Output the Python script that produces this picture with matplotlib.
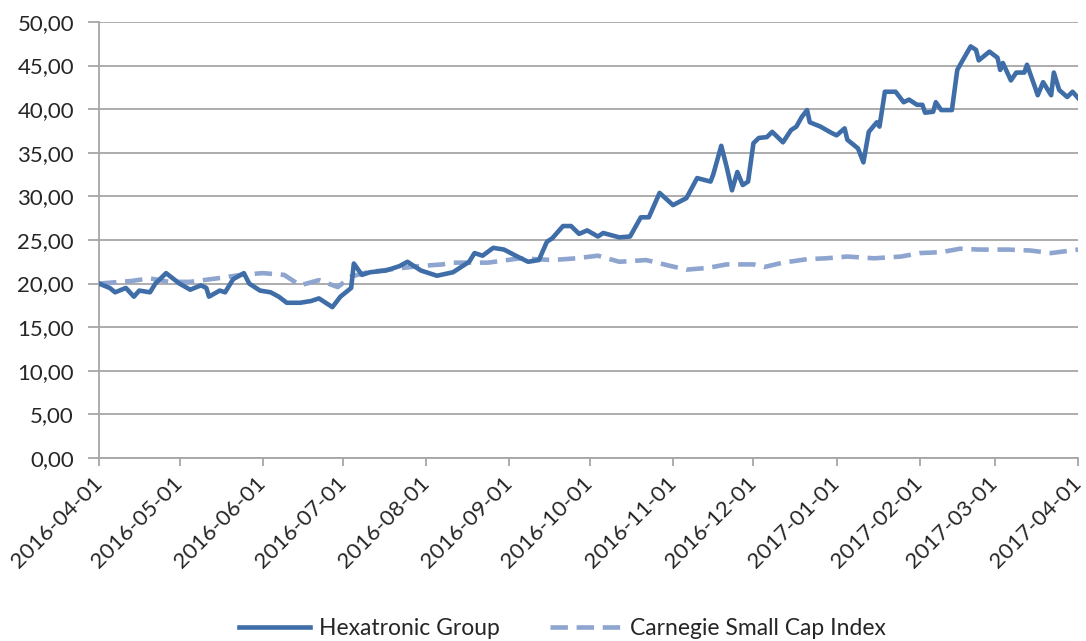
import matplotlib
matplotlib.use("Agg")
import matplotlib.pyplot as plt
import matplotlib.dates as mdates
import matplotlib.ticker as mticker
import pandas as pd

# Hexatronic Group closing prices
hexa_dates = [
    "2016-04-01", "2016-04-05", "2016-04-07", "2016-04-11", "2016-04-14", "2016-04-16",
    "2016-04-20", "2016-04-22", "2016-04-26", "2016-05-01", "2016-05-05", "2016-05-09",
    "2016-05-11", "2016-05-12", "2016-05-16", "2016-05-18", "2016-05-21", "2016-05-25",
    "2016-05-27", "2016-05-31", "2016-06-04", "2016-06-07", "2016-06-10", "2016-06-15",
    "2016-06-19", "2016-06-22", "2016-06-27", "2016-06-30", "2016-07-04", "2016-07-05",
    "2016-07-08", "2016-07-11", "2016-07-17", "2016-07-22", "2016-07-25", "2016-07-30",
    "2016-08-05", "2016-08-11", "2016-08-17", "2016-08-19", "2016-08-22", "2016-08-26",
    "2016-08-30", "2016-09-04", "2016-09-08", "2016-09-12", "2016-09-15", "2016-09-17",
    "2016-09-21", "2016-09-24", "2016-09-27", "2016-09-30", "2016-10-04", "2016-10-06",
    "2016-10-12", "2016-10-16", "2016-10-20", "2016-10-23", "2016-10-27", "2016-11-01",
    "2016-11-06", "2016-11-10", "2016-11-15", "2016-11-16", "2016-11-19", "2016-11-21",
    "2016-11-23", "2016-11-25", "2016-11-27", "2016-11-29", "2016-12-01", "2016-12-03",
    "2016-12-06", "2016-12-08", "2016-12-12", "2016-12-15", "2016-12-17", "2016-12-19",
    "2016-12-21", "2016-12-22", "2016-12-26", "2016-12-30", "2017-01-01", "2017-01-04",
    "2017-01-05", "2017-01-09", "2017-01-11", "2017-01-13", "2017-01-16", "2017-01-17",
    "2017-01-19", "2017-01-23", "2017-01-26", "2017-01-28", "2017-01-31", "2017-02-02",
    "2017-02-03", "2017-02-06", "2017-02-07", "2017-02-09", "2017-02-13", "2017-02-15",
    "2017-02-17", "2017-02-20", "2017-02-22", "2017-02-23", "2017-02-27", "2017-03-02",
    "2017-03-03", "2017-03-04", "2017-03-07", "2017-03-09", "2017-03-12", "2017-03-13",
    "2017-03-16", "2017-03-17", "2017-03-19", "2017-03-22", "2017-03-23", "2017-03-25",
    "2017-03-28", "2017-03-30", "2017-04-01",
]
hexa_values = [
    20.0, 19.5, 19.0, 19.5, 18.5, 19.2,
    19.0, 20.0, 21.2, 20.0, 19.3, 19.8,
    19.5, 18.5, 19.2, 19.0, 20.5, 21.2,
    20.0, 19.2, 19.0, 18.5, 17.8, 17.8,
    18.0, 18.3, 17.3, 18.5, 19.5, 22.3,
    21.0, 21.3, 21.5, 22.0, 22.5, 21.5,
    20.9, 21.3, 22.5, 23.5, 23.2, 24.1,
    23.9, 23.1, 22.5, 22.7, 24.8, 25.2,
    26.6, 26.6, 25.7, 26.1, 25.4, 25.8,
    25.3, 25.4, 27.6, 27.6, 30.4, 29.0,
    29.8, 32.1, 31.7, 32.5, 35.8, 33.4,
    30.7, 32.8, 31.3, 31.7, 36.1, 36.7,
    36.8, 37.4, 36.2, 37.6, 38.0, 39.1,
    39.9, 38.5, 38.0, 37.3, 37.0, 37.8,
    36.5, 35.5, 33.9, 37.4, 38.5, 38.0,
    42.0, 42.0, 40.8, 41.1, 40.5, 40.5,
    39.6, 39.7, 40.8, 39.9, 39.9, 44.5,
    45.6, 47.2, 46.8, 45.6, 46.6, 45.9,
    44.5, 45.3, 43.3, 44.2, 44.2, 45.1,
    42.5, 41.6, 43.1, 41.6, 44.2, 42.2,
    41.4, 42.0, 41.3,
]

# Carnegie Small Cap Index, rebased to the same start
csc_dates = [
    "2016-04-01", "2016-04-13", "2016-04-20", "2016-04-27", "2016-05-05", "2016-05-15",
    "2016-05-24", "2016-06-01", "2016-06-09", "2016-06-15", "2016-06-22", "2016-06-29",
    "2016-07-04", "2016-07-10", "2016-07-18", "2016-07-29", "2016-08-07", "2016-08-11",
    "2016-08-24", "2016-09-05", "2016-09-17", "2016-09-26", "2016-10-04", "2016-10-12",
    "2016-10-22", "2016-10-30", "2016-11-06", "2016-11-14", "2016-11-21", "2016-12-01",
    "2016-12-05", "2016-12-12", "2016-12-21", "2016-12-28", "2017-01-05", "2017-01-15",
    "2017-01-25", "2017-02-01", "2017-02-09", "2017-02-16", "2017-02-23", "2017-03-06",
    "2017-03-14", "2017-03-22", "2017-04-01",
]
csc_values = [
    20.0, 20.3, 20.6, 20.2, 20.2, 20.6,
    21.0, 21.2, 21.0, 19.8, 20.4, 19.6,
    20.8, 21.3, 21.6, 22.0, 22.2, 22.4,
    22.4, 22.9, 22.7, 22.9, 23.2, 22.5,
    22.7, 22.1, 21.6, 21.8, 22.2, 22.2,
    21.9, 22.4, 22.8, 22.9, 23.1, 22.9,
    23.1, 23.5, 23.6, 24.0, 23.9, 23.9,
    23.8, 23.5, 23.9,
]

month_ticks = pd.date_range("2016-04-01", "2017-04-01", freq="MS")

plt.rcParams["font.family"] = ["Lato", "DejaVu Sans"]
text_color = "#262626"
grid_color = "#A6A6A6"

fig = plt.figure(figsize=(10.86, 6.41), dpi=100)
ax = fig.add_axes([0.0912, 0.2855, 0.9014, 0.6802])

ax.plot(pd.to_datetime(hexa_dates), hexa_values, color="#3F6DA7", lw=3.3,
        solid_joinstyle="round", label="Hexatronic Group", zorder=3)
ax.plot(pd.to_datetime(csc_dates), csc_values, color="#8DA5CF", lw=3.3,
        dashes=(3.8, 1.9), dash_capstyle="butt", label="Carnegie Small Cap Index", zorder=2)

ax.set_xlim(month_ticks[0], month_ticks[-1])
ax.set_ylim(0, 50)
ax.yaxis.set_major_locator(mticker.MultipleLocator(5))
ax.yaxis.set_major_formatter(mticker.FuncFormatter(lambda v, p: f"{v:.2f}".replace(".", ",")))
ax.set_xticks(month_ticks)
ax.xaxis.set_major_formatter(mdates.DateFormatter("%Y-%m-%d"))

# horizontal gridlines only, Excel style
ax.grid(axis="y", color=grid_color, lw=1.3)
ax.set_axisbelow(True)
for side in ["top", "right"]:
    ax.spines[side].set_visible(False)
for side in ["left", "bottom"]:
    ax.spines[side].set_color(grid_color)
    ax.spines[side].set_linewidth(1.3)

ax.tick_params(axis="y", length=8, color=grid_color, width=1.3, labelsize=16,
               labelcolor=text_color, pad=10)
ax.tick_params(axis="x", length=6, color=grid_color, width=1.3, labelsize=16,
               labelcolor=text_color, pad=10)
for lab in ax.get_xticklabels():
    lab.set_rotation(45)
    lab.set_ha("right")
    lab.set_va("center")
    lab.set_rotation_mode("anchor")

fig.legend(loc="center", bbox_to_anchor=(0.518, 0.02), ncol=2, frameon=False,
           fontsize=16.5, handlelength=3.1, handletextpad=0.4, columnspacing=2.2,
           labelcolor=text_color)

fig.savefig("out.png", dpi=100)
